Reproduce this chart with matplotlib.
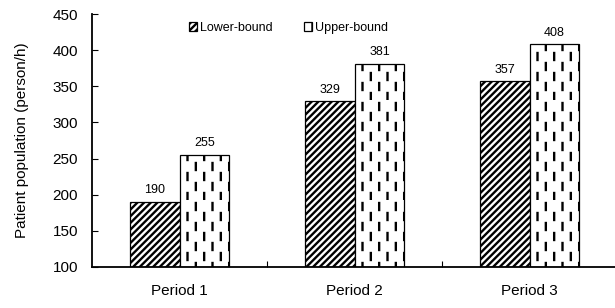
import matplotlib
matplotlib.use("Agg")
import matplotlib.pyplot as plt
import matplotlib.hatch as mhatch
import numpy as np

periods = ["Period 1", "Period 2", "Period 3"]
lower = [190, 329, 357]
upper = [255, 381, 408]


# dashed vertical hatch (staggered short dashes) for the upper-bound bars
class DashHatch(mhatch.HatchPatternBase):
    def __init__(self, hatch, density):
        self.ncol = int(hatch.count("!") * 12)
        self.nrow = 5
        self.num_lines = self.ncol * (self.nrow + 1)
        self.num_vertices = self.num_lines * 2

    def set_vertices_and_codes(self, vertices, codes):
        k = 0
        for i in range(self.ncol):
            xx = (i + 0.5) / self.ncol
            off = 0.5 / self.nrow if i % 2 else 0.0
            for j in range(-1, self.nrow):
                y0 = j / self.nrow + off
                y1 = y0 + 0.35 / self.nrow
                vertices[k] = [xx, max(y0, 0)]
                vertices[k + 1] = [xx, max(y1, 0)]
                codes[k] = 1
                codes[k + 1] = 2
                k += 2


mhatch._hatch_types.append(DashHatch)

plt.rcParams["font.family"] = ["Liberation Sans", "DejaVu Sans"]
plt.rcParams["hatch.linewidth"] = 1.7

fig = plt.figure(figsize=(6.15, 3.08), dpi=100)
ax = fig.add_axes([92 / 615, 41 / 308, 525 / 615, 253 / 308])

x = np.arange(len(periods))
w = 0.285
b1 = ax.bar(x - w / 2, np.array(lower) - 100, w, bottom=100, color="white",
            edgecolor="black", hatch="/////", linewidth=0.9, label="Lower-bound")
b2 = ax.bar(x + w / 2, np.array(upper) - 100, w, bottom=100, color="white",
            edgecolor="black", hatch="!", linewidth=0.9, label="Upper-bound")

for xi, v in zip(x - w / 2, lower):
    ax.annotate(str(v), (xi, v), xytext=(0, 4), textcoords="offset points",
                ha="center", va="bottom", fontsize=9)
for xi, v in zip(x + w / 2, upper):
    ax.annotate(str(v), (xi, v), xytext=(0, 4), textcoords="offset points",
                ha="center", va="bottom", fontsize=9)

ax.set_xlim(-0.5, 2.5)
ax.set_ylim(100, 450)
ax.set_yticks(np.arange(100, 451, 50))
ax.set_xticks(x)
ax.set_xticklabels(periods, fontsize=11)
ax.set_xticks([0.5, 1.5], minor=True)
ax.tick_params(axis="x", which="major", length=0, pad=12)
ax.tick_params(axis="x", which="minor", length=4, direction="in", width=0.8)
ax.tick_params(axis="y", direction="in", length=4, width=0.8, labelsize=11, pad=10)
ax.set_ylabel("Patient population (person/h)", fontsize=11, labelpad=17)

for s in ["top", "right"]:
    ax.spines[s].set_visible(False)
for s in ["left", "bottom"]:
    ax.spines[s].set_linewidth(1.3)

fig.legend(loc="center left", bbox_to_anchor=(189 / 615, 1 - 28 / 308), ncol=2,
           frameon=False, fontsize=9, handlelength=0.65, handleheight=0.65,
           handletextpad=0.25, columnspacing=2.5, borderpad=0, borderaxespad=0)

fig.savefig("out.png", dpi=100)
